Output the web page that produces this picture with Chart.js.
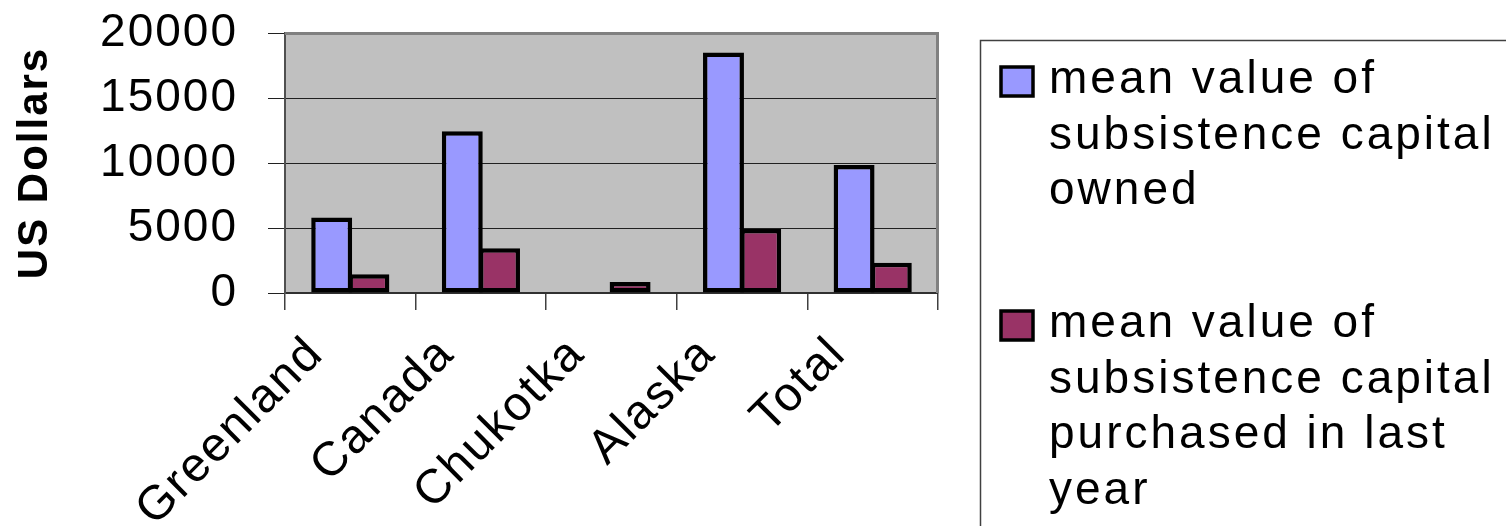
<!DOCTYPE html>
<html>
<head>
<meta charset="utf-8">
<script src="https://cdn.jsdelivr.net/npm/chart.js@4/dist/chart.umd.min.js"></script>
<style>
  html, body { margin: 0; padding: 0; background: #ffffff; }
  #wrap { width: 1506px; height: 526px; }
</style>
</head>
<body>
<div id="wrap"><canvas id="chart" width="1506" height="526"></canvas></div>
<script>
// Regions surveyed
const categories = ['Greenland', 'Canada', 'Chukotka', 'Alaska', 'Total'];

// Mean value of subsistence capital (US dollars)
const capitalOwned = [5800, 12450, 0, 18500, 9850];
const capitalPurchased = [1450, 3450, 850, 4920, 2320];

const seriesNames = [
  'mean value of subsistence capital owned',
  'mean value of subsistence capital purchased in last year'
];
const seriesColors = ['#9999FF', '#993366'];

const yTickValues = [0, 5000, 10000, 15000, 20000];
const yAxisTitle = 'US Dollars';

const FONT = '"Liberation Sans", Arial, Helvetica, sans-serif';

// Grey plot background; slightly widened lettering for axis text
const plotBackground = {
  id: 'plotBackground',
  beforeDraw(chart) {
    const { ctx, chartArea: a } = chart;
    ctx.save();
    ctx.fillStyle = '#C0C0C0';
    ctx.fillRect(a.left, a.top, a.right - a.left, a.bottom - a.top);
    ctx.restore();
    ctx.letterSpacing = '2px';
  },
  afterDraw(chart) {
    chart.ctx.letterSpacing = '0px';
  }
};

// Grey frame on the top and right of the plot area
const plotFrame = {
  id: 'plotFrame',
  afterDatasetsDraw(chart) {
    const { ctx, chartArea: a } = chart;
    ctx.save();
    ctx.strokeStyle = '#808080';
    ctx.lineWidth = 3;
    ctx.beginPath();
    ctx.moveTo(a.left, a.top + 0.5);
    ctx.lineTo(a.right - 0.5, a.top + 0.5);
    ctx.lineTo(a.right - 0.5, a.bottom);
    ctx.stroke();
    ctx.restore();
  }
};

// Boxed legend with wrapped series names
const boxedLegend = {
  id: 'boxedLegend',
  afterDraw(chart) {
    const ctx = chart.ctx;
    ctx.save();
    ctx.letterSpacing = '3px';
    ctx.strokeStyle = '#404040';
    ctx.lineWidth = 1.5;
    ctx.strokeRect(980.5, 40.5, 600, 600);

    ctx.font = '46px ' + FONT;
    ctx.fillStyle = '#000';
    ctx.textBaseline = 'alphabetic';
    ctx.textAlign = 'left';
    const textX = 1049;
    const maxWidth = 452;
    const lineHeight = 55.5;
    const firstBaselines = [93, 337];

    chart.data.datasets.forEach((ds, i) => {
      const words = ds.label.split(' ');
      const lines = [];
      let cur = '';
      words.forEach(w => {
        const trial = cur ? cur + ' ' + w : w;
        if (ctx.measureText(trial).width > maxWidth && cur) {
          lines.push(cur);
          cur = w;
        } else {
          cur = trial;
        }
      });
      if (cur) lines.push(cur);

      const base = firstBaselines[i];
      // swatch
      ctx.fillStyle = ds.backgroundColor;
      ctx.fillRect(1001, base - 26, 32, 29);
      ctx.strokeStyle = '#000';
      ctx.lineWidth = 3.5;
      ctx.strokeRect(1001, base - 26, 32, 29);

      ctx.fillStyle = '#000';
      lines.forEach((ln, k) => ctx.fillText(ln, textX, base + k * lineHeight));
    });
    ctx.restore();
  }
};

new Chart(document.getElementById('chart'), {
  type: 'bar',
  data: {
    labels: categories,
    datasets: [
      {
        label: seriesNames[0],
        data: capitalOwned,
        backgroundColor: seriesColors[0],
        borderColor: '#000',
        borderWidth: 4.5,
        borderSkipped: false,
        categoryPercentage: 0.57,
        barPercentage: 1.1
      },
      {
        label: seriesNames[1],
        data: capitalPurchased,
        backgroundColor: seriesColors[1],
        borderColor: '#000',
        borderWidth: 4.5,
        borderSkipped: false,
        categoryPercentage: 0.57,
        barPercentage: 1.1
      }
    ]
  },
  options: {
    responsive: false,
    animation: false,
    devicePixelRatio: 1,
    layout: { padding: { top: 33, right: 568, left: 0, bottom: 0 } },
    plugins: {
      legend: { display: false },
      tooltip: { enabled: false }
    },
    scales: {
      x: {
        grid: {
          offset: true,
          drawOnChartArea: false,
          drawTicks: true,
          tickLength: 17,
          color: '#404040',
          lineWidth: 1.5
        },
        border: { display: true, color: '#303030', width: 2 },
        ticks: {
          autoSkip: false,
          maxRotation: 45,
          minRotation: 45,
          padding: 16,
          labelOffset: -34,
          color: '#000',
          font: { family: FONT, size: 48 }
        },
        afterFit(scale) {
          scale.height = 233;
          scale.paddingLeft = 0;
          scale.paddingRight = 0;
          scale.paddingTop = 0;
          scale.paddingBottom = 0;
        }
      },
      y: {
        min: 0,
        max: 20000,
        afterBuildTicks(scale) {
          scale.ticks = yTickValues.map(v => ({ value: v }));
        },
        ticks: {
          padding: 30,
          color: '#000',
          font: { family: FONT, size: 46 },
          callback: v => String(v)
        },
        grid: {
          color: '#202020',
          lineWidth: 1,
          tickLength: 17,
          drawTicks: true
        },
        border: { display: true, color: '#505050', width: 2 },
        title: {
          display: true,
          text: yAxisTitle,
          color: '#000',
          font: { family: FONT, size: 42, weight: 'bold' },
          padding: { top: 10, bottom: 0 }
        },
        afterFit(scale) {
          scale.width = 285;
          scale.paddingTop = 0;
          scale.paddingBottom = 0;
          scale.paddingLeft = 0;
          scale.paddingRight = 0;
        }
      }
    }
  },
  plugins: [plotBackground, plotFrame, boxedLegend]
});
</script>
</body>
</html>
